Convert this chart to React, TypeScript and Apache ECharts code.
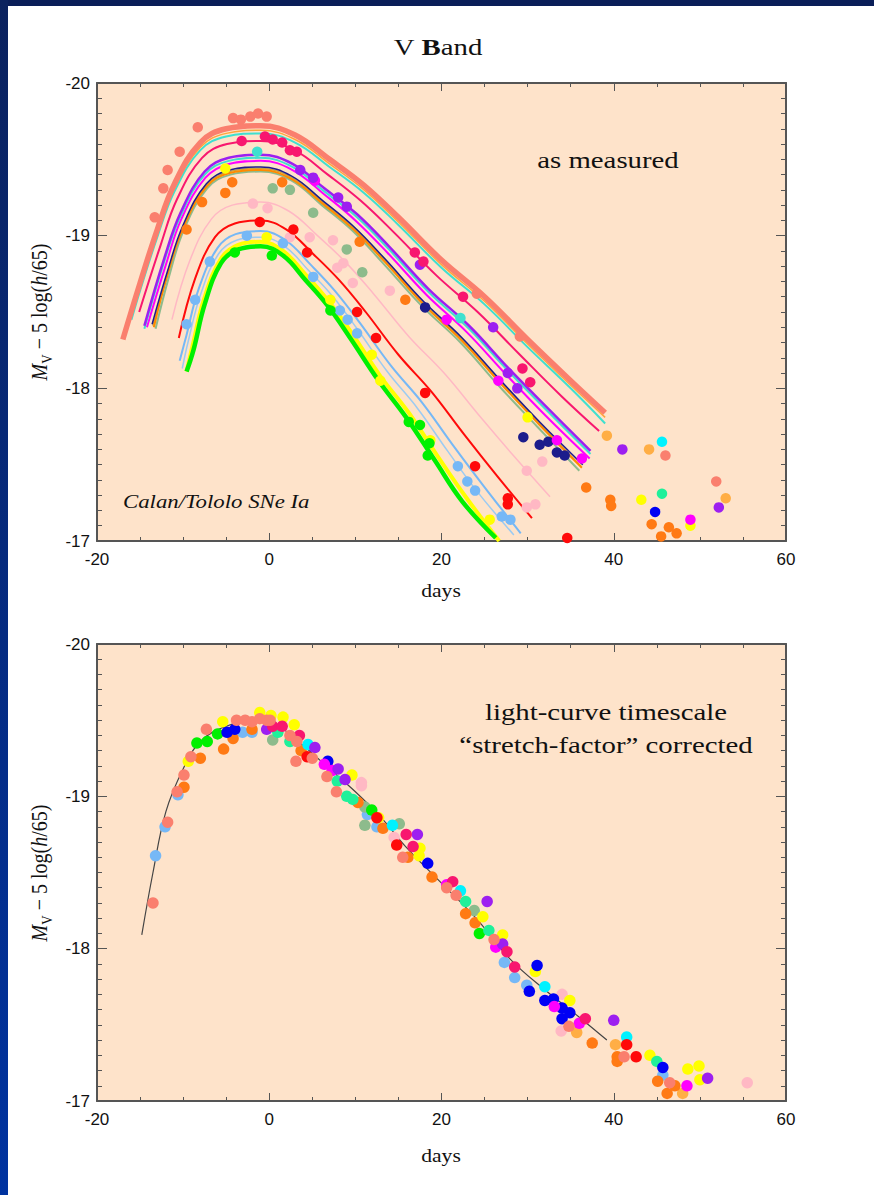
import React, { useEffect, useRef } from "react";
import * as echarts from "echarts";

// ---------- axes ----------
const X_MIN = -20;
const X_MAX = 60;
const X_STEP = 20;
const Y_MIN = -20;
const Y_MAX = -17;
const Y_STEP = 1;

// ---------- top panel: light-curve fits (day, magnitude) ----------
const curveSalmon = [[-17,-18.32],[-15,-18.69],[-13,-19.04],[-11,-19.34],[-8,-19.61],[-5,-19.70],[-1,-19.72],[3,-19.66],[7,-19.50],[11,-19.33],[15,-19.12],[20,-18.84],[25,-18.60],[30,-18.32],[35,-18.05],[39,-17.84]];
const curveOrange = [[-16,-18.47],[-15,-18.66],[-13,-19.01],[-11,-19.31],[-8,-19.58],[-5,-19.67],[-1,-19.69],[3,-19.63],[7,-19.47],[11,-19.30],[15,-19.09],[20,-18.81],[25,-18.57],[30,-18.29],[35,-18.02],[39,-17.81]];
const curveTurquoise = [[-16,-18.45],[-15,-18.64],[-13,-18.99],[-11,-19.29],[-8,-19.56],[-5,-19.65],[-1,-19.67],[3,-19.61],[7,-19.45],[11,-19.28],[15,-19.07],[20,-18.79],[25,-18.55],[30,-18.27],[35,-18.00],[39,-17.77]];
const curveDeepPink = [[-15.1,-18.50],[-12.6,-18.94],[-10.7,-19.24],[-7.8,-19.51],[-4.9,-19.60],[-1,-19.62],[2.9,-19.56],[6.8,-19.40],[10.6,-19.23],[14.5,-19.02],[19.4,-18.74],[24.2,-18.50],[29.1,-18.22],[33.9,-17.95],[38.3,-17.72]];
const curvePurple = [[-14.5,-18.41],[-12.2,-18.85],[-10.3,-19.15],[-7.5,-19.42],[-4.7,-19.51],[-1,-19.53],[2.7,-19.47],[6.4,-19.31],[10.2,-19.14],[13.9,-18.93],[18.5,-18.65],[23.2,-18.41],[27.8,-18.13],[32.5,-17.86],[37.3,-17.59]];
const curveTurquoise2 = [[-14.5,-18.39],[-12.2,-18.83],[-10.3,-19.13],[-7.5,-19.40],[-4.7,-19.49],[-1,-19.51],[2.7,-19.45],[6.4,-19.29],[10.2,-19.12],[13.9,-18.91],[18.5,-18.63],[23.2,-18.39],[27.8,-18.11],[32.5,-17.84],[37.3,-17.57]];
const curveMagenta = [[-14.2,-18.40],[-12.0,-18.81],[-10.2,-19.11],[-7.4,-19.38],[-4.7,-19.47],[-1,-19.49],[2.7,-19.43],[6.4,-19.27],[10.0,-19.10],[13.7,-18.89],[18.3,-18.61],[22.9,-18.37],[27.5,-18.09],[32.1,-17.82],[37.2,-17.54]];
const curveNavy = [[-13.6,-18.42],[-11.8,-18.77],[-10,-19.07],[-7.3,-19.34],[-4.6,-19.43],[-1,-19.45],[2.6,-19.39],[6.2,-19.23],[9.8,-19.06],[13.4,-18.85],[17.9,-18.57],[22.4,-18.33],[26.9,-18.05],[31.4,-17.78],[36.4,-17.50]];
const curveDarkOrange = [[-13.4,-18.40],[-11.8,-18.75],[-10,-19.05],[-7.3,-19.32],[-4.6,-19.41],[-1,-19.43],[2.6,-19.37],[6.2,-19.21],[9.8,-19.04],[13.4,-18.83],[17.9,-18.55],[22.4,-18.31],[26.9,-18.03],[31.4,-17.76],[36.3,-17.48]];
const curveSeaGreen = [[-13.2,-18.39],[-11.6,-18.74],[-9.9,-19.04],[-7.2,-19.31],[-4.5,-19.40],[-1,-19.42],[2.6,-19.36],[6.1,-19.20],[9.7,-19.03],[13.2,-18.82],[17.7,-18.54],[22.2,-18.30],[26.6,-18.02],[31.1,-17.75],[36.0,-17.46]];
const curveGold = [[-13.5,-18.41],[-11.7,-18.76],[-10,-19.06],[-7.3,-19.33],[-4.6,-19.42],[-1,-19.44],[2.6,-19.38],[6.2,-19.22],[9.8,-19.05],[13.4,-18.84],[17.9,-18.56],[22.4,-18.32],[26.9,-18.04],[31.4,-17.77],[36.2,-17.49]];
const curvePink = [[-11.3,-18.45],[-9.2,-18.84],[-6.7,-19.11],[-4.3,-19.20],[-1,-19.22],[2.3,-19.16],[5.6,-19.00],[8.8,-18.83],[12.1,-18.62],[16.2,-18.34],[20.3,-18.10],[24.4,-17.82],[28.5,-17.55],[32.6,-17.29]];
const curveRed = [[-10.5,-18.33],[-8.6,-18.72],[-6.3,-18.99],[-4.0,-19.08],[-1,-19.10],[2.0,-19.04],[5.1,-18.88],[8.1,-18.71],[11.2,-18.50],[15.0,-18.22],[18.8,-17.98],[22.6,-17.70],[26.4,-17.43],[30.5,-17.15]];
const curveSky = [[-10.4,-18.18],[-9.6,-18.35],[-8.2,-18.65],[-6.0,-18.92],[-3.9,-19.01],[-1,-19.03],[1.9,-18.97],[4.8,-18.81],[7.6,-18.64],[10.5,-18.43],[14.1,-18.15],[17.7,-17.91],[21.3,-17.63],[24.9,-17.36],[29.2,-17.05]];
const curveSky2 = [[-10.1,-18.13],[-9.4,-18.31],[-8.0,-18.61],[-5.9,-18.88],[-3.8,-18.97],[-1,-18.99],[1.8,-18.93],[4.6,-18.77],[7.4,-18.60],[10.2,-18.39],[13.7,-18.11],[17.2,-17.87],[20.7,-17.59],[24.2,-17.32],[28.4,-17.04]];
const curveYellow = [[-9.6,-18.11],[-8.9,-18.28],[-7.6,-18.58],[-5.6,-18.85],[-3.6,-18.94],[-1,-18.96],[1.6,-18.90],[4.3,-18.74],[6.9,-18.57],[9.6,-18.36],[12.9,-18.08],[16.2,-17.84],[19.5,-17.56],[22.8,-17.29],[26.7,-17.00]];
const curveGreen = [[-9.6,-18.11],[-8.8,-18.25],[-7.5,-18.55],[-5.6,-18.82],[-3.6,-18.91],[-1,-18.93],[1.6,-18.87],[4.2,-18.71],[6.8,-18.54],[9.4,-18.33],[12.7,-18.05],[15.9,-17.81],[19.2,-17.53],[22.4,-17.26],[26.3,-17.02]];

// ---------- top panel: measured points ----------
const topSalmon = [[-8.3,-19.71],[-4.2,-19.77],[-3.3,-19.76],[-2.2,-19.78],[-1.3,-19.80],[-0.3,-19.78],[-10.4,-19.55],[-11.8,-19.43],[-12.3,-19.31],[-13.3,-19.12],[24.1,-18.62],[29.1,-18.34],[46.0,-17.56],[51.9,-17.39]];
const topDeepPink = [[-3.2,-19.62],[-0.5,-19.65],[0.4,-19.63],[1.5,-19.61],[2.4,-19.56],[3.2,-19.55],[16.9,-18.89],[17.9,-18.83],[22.5,-18.60],[29.4,-18.13],[30.3,-18.04]];
const topPurple = [[3.6,-19.43],[5.1,-19.38],[8.0,-19.25],[9.0,-19.19],[17.5,-18.81],[26.0,-18.40],[27.7,-18.10],[28.8,-18.00],[41.0,-17.60],[52.2,-17.22]];
const topTurquoise = [[-1.4,-19.55],[22.2,-18.46]];
const topCyan = [[45.6,-17.65]];
const topOrange = [[-5.1,-19.28],[-4.3,-19.35],[-7.8,-19.22],[-9.6,-19.04],[1.5,-19.35],[10.5,-18.96],[15.8,-18.58],[36.8,-17.35],[39.6,-17.27],[39.7,-17.23],[44.4,-17.11],[45.5,-17.03],[46.4,-17.09],[47.3,-17.05]];
const topLightOrange = [[39.2,-17.69],[44.1,-17.60],[53.0,-17.28]];
const topSeaGreen = [[0.4,-19.31],[2.4,-19.30],[5.1,-19.15],[9.0,-18.91],[10.8,-18.76]];
const topPink = [[-1.9,-19.21],[-0.2,-19.18],[2.4,-18.99],[4.7,-18.99],[7.4,-18.97],[7.9,-18.79],[8.6,-18.82],[9.7,-18.69],[14.0,-18.64],[29.9,-17.46],[29.9,-17.22],[30.9,-17.24],[31.7,-17.52]];
const topRed = [[-1.1,-19.09],[2.8,-19.04],[4.4,-18.89],[10.2,-18.50],[12.4,-18.33],[18.1,-17.97],[23.9,-17.49],[27.7,-17.28],[27.7,-17.24],[34.6,-17.02]];
const topSky = [[-2.6,-19.00],[-6.9,-18.83],[-8.6,-18.58],[-9.6,-18.42],[1.6,-18.95],[5.1,-18.73],[8.2,-18.51],[9.1,-18.45],[10.2,-18.36],[21.9,-17.49],[23.0,-17.39],[23.9,-17.33],[27.0,-17.16],[28.0,-17.14]];
const topYellow = [[-0.3,-18.99],[-5.1,-19.44],[7.1,-18.58],[11.9,-18.22],[12.9,-18.05],[18.7,-17.66],[25.6,-17.14],[30.0,-17.81],[43.2,-17.27],[48.9,-17.10]];
const topGreen = [[0.3,-18.87],[-4.0,-18.89],[7.1,-18.51],[16.2,-17.78],[17.5,-17.76],[18.6,-17.64],[18.4,-17.56]];
const topMagenta = [[5.3,-19.36],[20.6,-18.45],[26.6,-18.05],[33.4,-17.66],[36.3,-17.54],[48.9,-17.14]];
const topNavy = [[18.1,-18.53],[29.5,-17.68],[31.4,-17.63],[32.4,-17.65],[33.4,-17.58],[34.3,-17.56]];
const topBlue = [[44.8,-17.19]];
const topSpring = [[45.6,-17.31]];

// ---------- bottom panel: stretch-corrected template and points ----------
const curveTemplate = [[-14.8,-18.09],[-13.5,-18.50],[-12,-18.90],[-10,-19.18],[-8,-19.36],[-5,-19.46],[-2,-19.49],[1,-19.46],[4,-19.33],[7,-19.18],[10,-19.03],[13,-18.86],[16,-18.66],[20,-18.43],[24,-18.20],[28,-17.93],[32,-17.73],[36,-17.55],[39.2,-17.40]];

const botSky = [[-13.2,-18.61],[-12.1,-18.80],[-10.6,-19.01],[-3.1,-19.42],[-2.0,-19.42],[11.4,-18.88],[12.5,-18.80],[27.3,-17.91],[28.5,-17.81],[29.9,-17.76],[45.7,-17.17]];
const botSalmon = [[-13.5,-18.30],[-11.8,-18.83],[-10.7,-19.03],[-9.9,-19.14],[-9.1,-19.26],[-7.3,-19.44],[-3.8,-19.50],[-2.8,-19.50],[-2.0,-19.49],[-1.1,-19.51],[-0.3,-19.50],[0.1,-19.50],[2.4,-19.40],[3.2,-19.36],[3.1,-19.23],[5.0,-19.25],[6.7,-19.13],[7.8,-19.03],[15.5,-18.60],[20.6,-18.40],[21.7,-18.35],[26.1,-18.06],[34.8,-17.49],[41.2,-17.29],[46.5,-17.12]];
const botOrange = [[-9.9,-19.06],[-8.0,-19.25],[-5.3,-19.31],[-4.2,-19.38],[-2.0,-19.44],[3.7,-19.30],[10.3,-18.96],[13.2,-18.79],[16.1,-18.60],[18.9,-18.47],[22.8,-18.23],[23.9,-18.17],[37.5,-17.38],[40.4,-17.29],[40.4,-17.26],[45.1,-17.13],[46.2,-17.05],[47.1,-17.10]];
const botLightOrange = [[35.7,-17.45],[40.2,-17.37],[48.0,-17.05]];
const botYellow = [[-9.4,-19.23],[-5.4,-19.49],[-1.1,-19.55],[0.2,-19.53],[1.6,-19.52],[2.9,-19.47],[9.6,-19.14],[12.7,-18.86],[17.4,-18.61],[17.5,-18.66],[24.8,-18.21],[27.1,-18.09],[30.9,-17.85],[34.9,-17.66],[44.2,-17.30],[48.6,-17.21],[49.9,-17.23],[50.0,-17.14]];
const botGreen = [[-8.4,-19.35],[-7.2,-19.36],[-6.0,-19.41],[24.4,-18.10],[11.9,-18.91]];
const botBlue = [[-4.9,-19.42],[-4.0,-19.44],[6.8,-19.23],[18.4,-18.56],[31.1,-17.89],[30.2,-17.72],[32.0,-17.66],[33.0,-17.67],[34.0,-17.61],[34.9,-17.58],[34.0,-17.54],[45.7,-17.22]];
const botDeepPink = [[0.4,-19.46],[1.5,-19.46],[3.5,-19.40],[15.9,-18.75],[16.7,-18.67],[21.3,-18.44],[27.6,-17.98],[28.5,-17.88],[36.7,-17.54]];
const botPurple = [[-0.3,-19.44],[5.3,-19.32],[8.0,-19.18],[8.8,-19.11],[17.2,-18.75],[25.3,-18.31],[27.1,-18.03],[40.0,-17.53],[50.9,-17.15]];
const botSpring = [[1.0,-19.42],[2.4,-19.36],[7.9,-19.10],[9.0,-19.00],[9.7,-18.98],[22.8,-18.31],[25.5,-18.12],[45.0,-17.26]];
const botSeaGreen = [[0.4,-19.37],[11.1,-18.93],[11.1,-18.81],[15.1,-18.82],[23.8,-18.25]];
const botCyan = [[4.5,-19.34],[14.3,-18.81],[22.2,-18.38],[32.0,-17.75],[41.5,-17.42]];
const botRed = [[4.4,-19.26],[12.5,-18.86],[14.8,-18.68],[41.5,-17.37],[42.6,-17.29]];
const botMagenta = [[6.4,-19.21],[7.3,-19.17],[20.6,-18.42],[26.3,-18.01],[33.1,-17.62],[36.0,-17.51],[48.5,-17.10]];
const botPink = [[10.7,-19.09],[10.7,-19.07],[14.5,-18.73],[34.0,-17.70],[33.9,-17.46],[55.5,-17.12]];

const C = {
  salmon: "#FA7F6E",
  deepPink: "#F8176F",
  purple: "#9D1FF0",
  turquoise: "#3FE0CF",
  cyan: "#00F2FF",
  orange: "#FF7A14",
  lightOrange: "#FFAE45",
  seaGreen: "#8DBB8C",
  pink: "#FFB8C4",
  red: "#FF0A0A",
  sky: "#76B8F6",
  sky2: "#9CCBF2",
  yellow: "#FFFF00",
  green: "#00F000",
  magenta: "#FF00FF",
  navy: "#1C1C8C",
  blue: "#0000F5",
  spring: "#1FF09A",
  gold: "#C8A23C",
  darkOrange: "#FF8A00",
  thinOrange: "#FFA53C",
};

const SERIF = "'Liberation Serif', 'Times New Roman', serif";
const SANS = "'Liberation Sans', Arial, sans-serif";
const AX = "#555555";

function xAxis(gridIndex: number, position: string, showLabel: boolean) {
  return {
    gridIndex,
    type: "value",
    position,
    min: X_MIN,
    max: X_MAX,
    interval: X_STEP,
    axisLine: { show: true, onZero: false, lineStyle: { color: AX, width: 2 } },
    axisTick: { show: true, inside: true, length: 8, lineStyle: { color: AX, width: 1 } },
    minorTick: { show: true, splitNumber: 4, length: 4, lineStyle: { color: AX, width: 1 } },
    splitLine: { show: false },
    minorSplitLine: { show: false },
    axisLabel: { show: showLabel, color: "#111", fontFamily: SANS, fontSize: 17, margin: 10 },
  };
}

function yAxis(gridIndex: number, position: string, showLabel: boolean) {
  return {
    gridIndex,
    type: "value",
    position,
    min: Y_MIN,
    max: Y_MAX,
    interval: Y_STEP,
    inverse: true,
    axisLine: { show: true, onZero: false, lineStyle: { color: AX, width: 2 } },
    axisTick: { show: true, inside: true, length: 10, lineStyle: { color: AX, width: 1 } },
    minorTick: { show: true, splitNumber: 10, length: 5, lineStyle: { color: AX, width: 1 } },
    splitLine: { show: false },
    minorSplitLine: { show: false },
    axisLabel: { show: showLabel, color: "#111", fontFamily: SANS, fontSize: 17, margin: 7 },
  };
}

function lineSeries(data: number[][], color: string, width: number, axis: number, dashed = false) {
  return {
    type: "line",
    xAxisIndex: axis,
    yAxisIndex: axis,
    data,
    smooth: 0.4,
    showSymbol: false,
    symbol: "none",
    z: 2,
    lineStyle: { color, width, type: dashed ? "dashed" : "solid" },
    silent: true,
  };
}

function dotSeries(data: number[][], color: string, size: number, axis: number) {
  return {
    type: "scatter",
    xAxisIndex: axis,
    yAxisIndex: axis,
    data,
    symbol: "circle",
    symbolSize: size,
    z: 3,
    itemStyle: { color, opacity: 1 },
    silent: true,
  };
}

function yName(x: number, y: number) {
  return {
    type: "text",
    x,
    y,
    rotation: Math.PI / 2,
    scaleY: 1.15,
    style: {
      text: "{i|M}{s|V}{n| \u2212 5 log(}{i|h}{n|/65)}",
      align: "center",
      verticalAlign: "middle",
      fill: "#111",
      rich: {
        i: { fontFamily: SERIF, fontStyle: "italic", fontSize: 20, lineHeight: 26, verticalAlign: "middle", fill: "#111" },
        n: { fontFamily: SERIF, fontSize: 20, lineHeight: 26, verticalAlign: "middle", fill: "#111" },
        s: { fontFamily: SERIF, fontSize: 13, lineHeight: 14, verticalAlign: "bottom", fill: "#111" },
      },
    },
  };
}

function label(text: string, x: number, y: number, size: number, align = "center", italic = false) {
  return {
    type: "text",
    x,
    y,
    scaleX: 1.2,
    style: {
      text,
      fontFamily: SERIF,
      fontSize: size,
      fontStyle: italic ? "italic" : "normal",
      fill: "#111",
      align,
      verticalAlign: "middle",
    },
  };
}

export default function App() {
  const ref = useRef<HTMLDivElement>(null);

  useEffect(() => {
    if (!ref.current) return;
    const chart = echarts.init(ref.current, null, { renderer: "svg" });
    const TOP = 0;
    const BOT = 2;
    const ts = 10.5;
    const bs = 11.5;

    const option = {
      animation: false,
      backgroundColor: "transparent",
      grid: [
        { left: 97, top: 83, width: 689, height: 458, show: true, backgroundColor: "#FEE3CA", borderWidth: 0 },
        { left: 97, top: 644, width: 689, height: 457, show: true, backgroundColor: "#FEE3CA", borderWidth: 0 },
      ],
      xAxis: [xAxis(0, "bottom", true), xAxis(0, "top", false), xAxis(1, "bottom", true), xAxis(1, "top", false)],
      yAxis: [yAxis(0, "left", true), yAxis(0, "right", false), yAxis(1, "left", true), yAxis(1, "right", false)],
      series: [
        // top curves
        lineSeries(curvePink, C.pink, 1.5, TOP),
        lineSeries(curveSky2, C.sky2, 1.5, TOP),
        lineSeries(curveSky, C.sky, 2, TOP),
        lineSeries(curveRed, C.red, 2, TOP),
        lineSeries(curveYellow, C.yellow, 4, TOP),
        lineSeries(curveGreen, C.green, 4.5, TOP),
        lineSeries(curveSeaGreen, C.seaGreen, 2, TOP),
        lineSeries(curveGold, C.gold, 1.5, TOP),
        lineSeries(curveDarkOrange, C.darkOrange, 2, TOP),
        lineSeries(curveNavy, C.navy, 1.5, TOP),
        lineSeries(curveMagenta, C.magenta, 2, TOP),
        lineSeries(curveTurquoise2, C.turquoise, 2, TOP),
        lineSeries(curvePurple, C.purple, 2.5, TOP),
        lineSeries(curveDeepPink, C.deepPink, 2, TOP),
        lineSeries(curveTurquoise, C.turquoise, 2, TOP),
        lineSeries(curveOrange, C.thinOrange, 1.5, TOP),
        lineSeries(curveSalmon, C.salmon, 5.5, TOP),
        // top points
        dotSeries(topPink, C.pink, ts, TOP),
        dotSeries(topSeaGreen, C.seaGreen, ts, TOP),
        dotSeries(topSky, C.sky, ts, TOP),
        dotSeries(topYellow, C.yellow, ts, TOP),
        dotSeries(topGreen, C.green, ts, TOP),
        dotSeries(topRed, C.red, ts, TOP),
        dotSeries(topOrange, C.orange, ts, TOP),
        dotSeries(topLightOrange, C.lightOrange, ts, TOP),
        dotSeries(topNavy, C.navy, ts, TOP),
        dotSeries(topBlue, C.blue, ts, TOP),
        dotSeries(topTurquoise, C.turquoise, ts, TOP),
        dotSeries(topCyan, C.cyan, ts, TOP),
        dotSeries(topSpring, C.spring, ts, TOP),
        dotSeries(topMagenta, C.magenta, ts, TOP),
        dotSeries(topPurple, C.purple, ts, TOP),
        dotSeries(topDeepPink, C.deepPink, ts, TOP),
        dotSeries(topSalmon, C.salmon, ts, TOP),
        // bottom
        lineSeries(curveTemplate, "#444444", 1.2, BOT),
        dotSeries(botPink, C.pink, bs, BOT),
        dotSeries(botSky, C.sky, bs, BOT),
        dotSeries(botSeaGreen, C.seaGreen, bs, BOT),
        dotSeries(botGreen, C.green, bs, BOT),
        dotSeries(botLightOrange, C.lightOrange, bs, BOT),
        dotSeries(botOrange, C.orange, bs, BOT),
        dotSeries(botYellow, C.yellow, bs, BOT),
        dotSeries(botSpring, C.spring, bs, BOT),
        dotSeries(botCyan, C.cyan, bs, BOT),
        dotSeries(botRed, C.red, bs, BOT),
        dotSeries(botBlue, C.blue, bs, BOT),
        dotSeries(botMagenta, C.magenta, bs, BOT),
        dotSeries(botPurple, C.purple, bs, BOT),
        dotSeries(botDeepPink, C.deepPink, bs, BOT),
        dotSeries(botSalmon, C.salmon, bs, BOT),
      ],
      graphic: [
        {
          type: "text",
          x: 438,
          y: 47,
          scaleX: 1.2,
          style: {
            text: "{n|V }{b|B}{n|and}",
            align: "center",
            verticalAlign: "middle",
            rich: {
              n: { fontFamily: SERIF, fontSize: 24, fill: "#111" },
              b: { fontFamily: SERIF, fontSize: 24, fontWeight: "bold", fill: "#111" },
            },
          },
        },
        label("as measured", 608, 160, 24),
        label("Calan/Tololo SNe Ia", 123, 502, 19, "left", true),
        label("light-curve timescale", 606, 712, 24),
        label("\u201Cstretch-factor\u201D corrected", 606, 745, 24),
        label("days", 441, 591, 18),
        label("days", 441, 1156, 18),
        yName(40, 312),
        yName(40, 873),
      ],
    };

    chart.setOption(option as any);
    return () => chart.dispose();
  }, []);

  return (
    <div style={{ position: "fixed", left: 0, top: 0, width: 874, height: 1195, background: "#ffffff", overflow: "hidden" }}>
      <div style={{ position: "absolute", left: 0, top: 0, width: 874, height: 6, background: "#0A1E58" }} />
      <div style={{ position: "absolute", left: 0, top: 0, width: 8, height: 1195, background: "linear-gradient(#0B225E, #0033A0)" }} />
      <div ref={ref} style={{ position: "absolute", left: 0, top: 0, width: 874, height: 1195 }} />
    </div>
  );
}
